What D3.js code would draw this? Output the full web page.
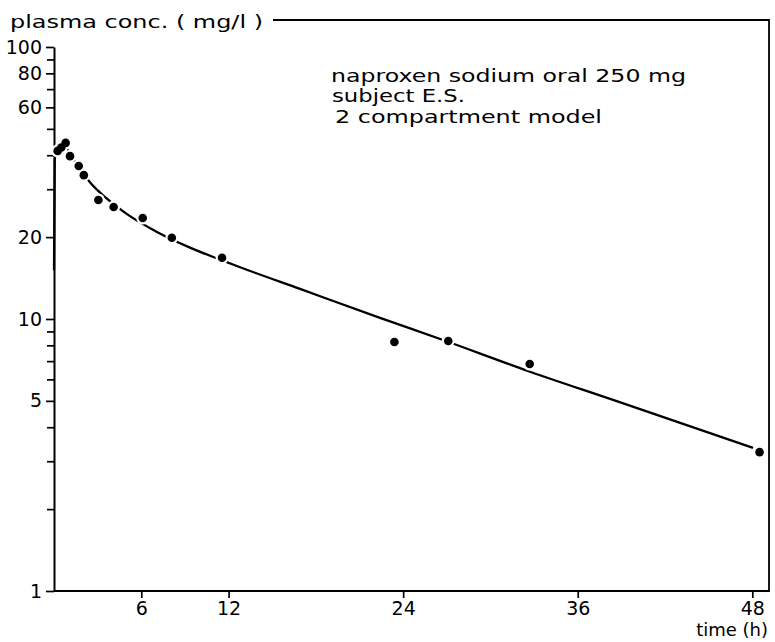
<!DOCTYPE html>
<html>
<head>
<meta charset="utf-8">
<script src="https://cdn.jsdelivr.net/npm/d3@7"></script>
<style>
  html, body { margin: 0; padding: 0; background: #fff; }
  svg { display: block; font-family: 'DejaVu Sans', sans-serif; }
</style>
</head>
<body>
<div id="chart"></div>
<script>
// measured concentrations (time in h, plasma conc. in mg/l)
var timeH = [0.25, 0.5, 0.8, 1.1, 1.7, 2.05, 3.05, 4.1, 6.1, 8.1, 11.55, 23.4, 27.1, 32.7, 48.5];
var concMgL = [41.5, 42.7, 44.4, 39.7, 36.5, 33.8, 27.4, 25.8, 23.5, 19.9, 16.8, 8.23, 8.3, 6.83, 3.24];

// fitted 2 compartment model curve
var fitTimeH = [0, 0.05, 0.17, 0.41, 0.69, 0.89, 1.1, 1.68, 2.06, 2.47, 3.64, 5.02, 7.08, 9.35,
  11.2, 12.79, 16.91, 22.41, 26.74, 32.72, 38.43, 48.05];
var fitConcMgL = [15.1, 38.4, 41.8, 43.3, 43.3, 42.2, 40.1, 36.5, 34.0, 31.8, 27.7, 24.3, 20.9, 18.3,
  16.7, 15.5, 12.9, 10.1, 8.37, 6.4, 5.04, 3.36];

var xTicks = [6, 12, 24, 36, 48];
var yTicks = [1, 2, 3, 4, 5, 6, 7, 8, 9, 10, 20, 30, 40, 50, 60, 70, 80, 90, 100];
var yTickLabels = [1, 5, 10, 20, 60, 80, 100];

var yTitle = 'plasma conc. ( mg/l )';
var xTitle = 'time (h)';
var notes = ['naproxen sodium oral 250 mg', 'subject E.S.', '2 compartment model'];

var width = 775;
var height = 642;
var left = 54;
var bottom = 591;
var frameRight = 769;
var frameTop = 20;
var font = 'DejaVu Sans, sans-serif';

var xScale = d3.scaleLinear().domain([0, 48]).range([left, 752.3]);
var yScale = d3.scaleLog().domain([1, 100]).range([bottom, 47]);

var svg = d3.select('#chart')
  .append('svg')
  .attr('width', width)
  .attr('height', height);

// frame: top line after the y title, right edge and bottom line
svg.append('path')
  .attr('d', 'M273,' + frameTop + 'H' + frameRight + 'V' + bottom + 'H' + left)
  .attr('fill', 'none')
  .attr('stroke', '#000')
  .attr('stroke-width', 1.8);

// y axis, log scale, labels only on a few ticks
var yAxis = d3.axisLeft(yScale)
  .tickValues(yTicks)
  .tickSize(8)
  .tickSizeOuter(0)
  .tickPadding(4)
  .tickFormat(function(d) { return yTickLabels.indexOf(d) >= 0 ? d : ''; });

var yG = svg.append('g')
  .attr('class', 'y axis')
  .attr('transform', 'translate(' + left + ',0)')
  .call(yAxis)
  .attr('font-size', 19)
  .attr('font-family', font);
yG.select('.domain').attr('stroke-width', 2);
yG.selectAll('.tick line')
  .attr('stroke-width', 1.7)
  .attr('x2', function(d) { return yTickLabels.indexOf(d) >= 0 ? -8 : -7; });

var xAxis = d3.axisBottom(xScale)
  .tickValues(xTicks)
  .tickSize(7)
  .tickSizeOuter(0)
  .tickPadding(4)
  .tickFormat(d3.format('d'));

var xG = svg.append('g')
  .attr('class', 'x axis')
  .attr('transform', 'translate(0,' + bottom + ')')
  .call(xAxis)
  .attr('font-size', 19)
  .attr('font-family', font);
xG.select('.domain').remove();
xG.selectAll('.tick line').attr('stroke-width', 1.7);

svg.append('text')
  .attr('x', 10)
  .attr('y', 28)
  .attr('font-size', 18)
  .attr('textLength', 253)
  .attr('lengthAdjust', 'spacingAndGlyphs')
  .text(yTitle);

svg.append('text')
  .attr('x', 768)
  .attr('y', 636)
  .attr('font-size', 18)
  .attr('text-anchor', 'end')
  .text(xTitle);

var noteX = [331, 332, 335];
var noteY = [82, 102, 123];
var noteLen = [355, 133, 267];
svg.selectAll('.note')
  .data(notes)
  .enter().append('text')
  .attr('class', 'note')
  .attr('x', function(d, i) { return noteX[i]; })
  .attr('y', function(d, i) { return noteY[i]; })
  .attr('font-size', 18)
  .attr('textLength', function(d, i) { return noteLen[i]; })
  .attr('lengthAdjust', 'spacingAndGlyphs')
  .text(function(d) { return d; });

// fitted curve
var fit = fitTimeH.map(function(t, i) { return [t, fitConcMgL[i]]; });
var line = d3.line()
  .x(function(d) { return xScale(d[0]); })
  .y(function(d) { return yScale(d[1]); })
  .curve(d3.curveMonotoneX);

svg.append('path')
  .datum(fit)
  .attr('d', line)
  .attr('fill', 'none')
  .attr('stroke', '#000')
  .attr('stroke-width', 2.3);

// measured points; a white halo breaks the curve around each dot
var points = timeH.map(function(t, i) { return { t: t, c: concMgL[i] }; });

svg.append('g')
  .selectAll('circle')
  .data(points)
  .enter().append('circle')
  .attr('cx', function(d) { return xScale(d.t); })
  .attr('cy', function(d) { return yScale(d.c); })
  .attr('r', 6.5)
  .attr('fill', '#fff');

svg.append('g')
  .selectAll('circle')
  .data(points)
  .enter().append('circle')
  .attr('cx', function(d) { return xScale(d.t); })
  .attr('cy', function(d) { return yScale(d.c); })
  .attr('r', 4.3)
  .attr('fill', '#000');
</script>
</body>
</html>
